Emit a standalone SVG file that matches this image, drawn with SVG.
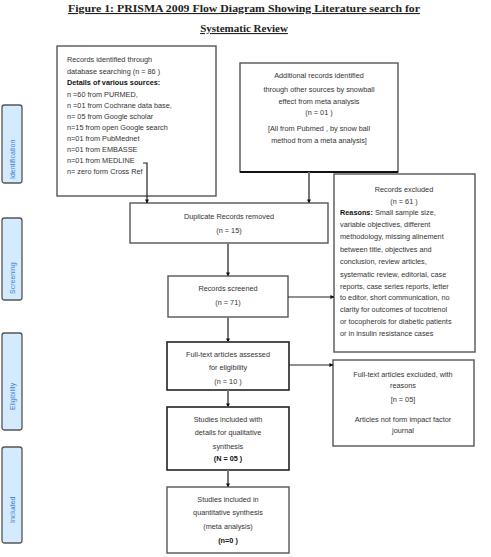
<svg xmlns="http://www.w3.org/2000/svg" width="491" height="557" viewBox="0 0 491 557">
<style>
.bg{fill:#fff}
.box{fill:#fff;stroke:#555;stroke-width:1.4}
.boxd{fill:#fff;stroke:#222;stroke-width:1.6}
.t{font-family:"Liberation Sans",Arial,sans-serif;font-size:7.3px;fill:#333}
.c{text-anchor:middle}
.b{font-weight:bold;fill:#111}
.side{fill:#d4ebff;stroke:#555;stroke-width:1.3}
.st{font-family:"Liberation Sans",Arial,sans-serif;font-size:7px;fill:#3d7fcf;text-anchor:start}
.title{font-family:"Liberation Serif","Times New Roman",serif;font-size:11px;font-weight:bold;fill:#222;text-decoration:underline}
.v{stroke:#777;stroke-width:2;fill:none}
.h{stroke:#222;stroke-width:1.2;fill:none}
</style>
<defs>
<marker id="ah" viewBox="0 0 10 10" refX="9" refY="5" markerWidth="4" markerHeight="4" orient="auto" markerUnits="userSpaceOnUse">
<path d="M0,0 L10,5 L0,10 z" fill="#111"/>
</marker>
</defs>
<rect class="bg" x="0" y="0" width="491" height="557"/>

<g id="title">
<text class="title" x="68" y="12" textLength="352" lengthAdjust="spacingAndGlyphs">Figure 1: PRISMA 2009 Flow Diagram Showing Literature search for</text>
<text class="title" x="244" y="32" text-anchor="middle">Systematic Review</text>
</g>

<g id="side-identification">
<rect class="side" x="2" y="105" width="20" height="78" rx="2.5"/>
<text class="st" transform="translate(15,179) rotate(-90)">Identification</text>
</g>
<g id="side-screening">
<rect class="side" x="2" y="218" width="20" height="82" rx="2.5"/>
<text class="st" transform="translate(15,294) rotate(-90)">Screening</text>
</g>
<g id="side-eligibility">
<rect class="side" x="2" y="333" width="20" height="97" rx="2.5"/>
<text class="st" transform="translate(15,410) rotate(-90)">Eligibility</text>
</g>
<g id="side-included">
<rect class="side" x="2" y="447" width="20" height="96" rx="2.5"/>
<text class="st" transform="translate(15,523) rotate(-90)">Included</text>
</g>

<g id="records-identified">
<rect class="box" x="57" y="46" width="159" height="150"/>
<text class="t" x="67" y="62">Records identified through</text>
<text class="t" x="67" y="74">database searching (n = 86 )</text>
<text class="t b" x="67" y="85">Details of various sources:</text>
<text class="t" x="67" y="97">n =60 from PURMED,</text>
<text class="t" x="67" y="108">n =01 from Cochrane data base,</text>
<text class="t" x="67" y="119">n= 05 from Google scholar</text>
<text class="t" x="67" y="130">n=15 from open Google search</text>
<text class="t" x="67" y="141">n=01 from PubMednet</text>
<text class="t" x="67" y="152">n=01 from EMBASSE</text>
<text class="t" x="67" y="163">n=01 from MEDLINE</text>
<text class="t" x="67" y="174">n= zero form Cross Ref</text>
</g>

<g id="additional-records">
<rect class="box" x="240" y="63" width="158" height="109"/>
<line x1="240" y1="172" x2="398" y2="172" stroke="#111" stroke-width="1.8"/>
<text class="t c" x="319" y="78">Additional records identified</text>
<text class="t c" x="319" y="92">through other sources by snowball</text>
<text class="t c" x="319" y="104">effect from meta analysis</text>
<text class="t c" x="319" y="115">(n = 01 )</text>
<text class="t c" x="319" y="131">[All from Pubmed , by snow ball</text>
<text class="t c" x="319" y="143">method from a meta analysis]</text>
</g>

<g id="duplicates">
<rect class="box" x="130" y="203" width="198" height="40"/>
<text class="t c" x="229" y="219">Duplicate Records removed</text>
<text class="t c" x="229" y="233">(n = 15)</text>
</g>

<g id="records-excluded">
<rect class="box" x="334" y="174" width="141" height="178"/>
<text class="t c" x="404" y="192">Records excluded</text>
<text class="t c" x="404" y="204">(n = 61 )</text>
<text class="t" x="340" y="215"><tspan class="b">Reasons:</tspan> Small sample size,</text>
<text class="t" x="340" y="227">variable objectives, different</text>
<text class="t" x="340" y="239">methodology, missing alinement</text>
<text class="t" x="340" y="252">between title, objectives and</text>
<text class="t" x="340" y="264">conclusion, review articles,</text>
<text class="t" x="340" y="277">systematic review, editorial, case</text>
<text class="t" x="340" y="289">reports, case series reports, letter</text>
<text class="t" x="340" y="300">to editor, short communication, no</text>
<text class="t" x="340" y="312">clarity for outcomes of tocotrienol</text>
<text class="t" x="340" y="324">or tocopherols for diabetic patients</text>
<text class="t" x="340" y="336">or in insulin resistance cases</text>
</g>

<g id="records-screened">
<rect class="box" x="168" y="276" width="120" height="41"/>
<text class="t c" x="228" y="291">Records screened</text>
<text class="t c" x="228" y="305">(n = 71)</text>
</g>

<g id="fulltext-assessed">
<rect class="boxd" x="167" y="342" width="122" height="48"/>
<text class="t c" x="228" y="357">Full-text articles assessed</text>
<text class="t c" x="228" y="370">for eligibility</text>
<text class="t c" x="228" y="384">(n = 10 )</text>
</g>

<g id="fulltext-excluded">
<rect class="box" x="333" y="360" width="141" height="86"/>
<text class="t c" x="403" y="377">Full-text articles excluded, with</text>
<text class="t c" x="403" y="388">reasons</text>
<text class="t c" x="403" y="402">[n = 05]</text>
<text class="t c" x="403" y="422">Articles not form impact factor</text>
<text class="t c" x="403" y="433">journal</text>
</g>

<g id="qualitative">
<rect class="boxd" x="167" y="407" width="122" height="63"/>
<text class="t c" x="228" y="422">Studies included with</text>
<text class="t c" x="228" y="435">details for qualitative</text>
<text class="t c" x="228" y="449">synthesis</text>
<text class="t c b" x="228" y="461">(N =  05 )</text>
</g>

<g id="quantitative">
<rect class="box" x="167" y="487" width="122" height="66"/>
<text class="t c" x="228" y="502">Studies included in</text>
<text class="t c" x="228" y="515">quantitative synthesis</text>
<text class="t c" x="228" y="529">(meta analysis)</text>
<text class="t c b" x="228" y="543">(n=0 )</text>
</g>

<g id="connectors">
<path class="h" d="M143,163 H147 V203" marker-end="url(#ah)"/>
<path class="v" d="M309,172 V203" marker-end="url(#ah)"/>
<path class="v" d="M228,243 V276" marker-end="url(#ah)"/>
<path class="h" d="M288,297 H334" marker-end="url(#ah)"/>
<path class="v" d="M228,317 V342" marker-end="url(#ah)"/>
<path class="h" d="M289,365 H333" marker-end="url(#ah)"/>
<path class="v" d="M228,390 V407" marker-end="url(#ah)"/>
<path class="v" d="M228,470 V487" marker-end="url(#ah)"/>
</g>
</svg>
